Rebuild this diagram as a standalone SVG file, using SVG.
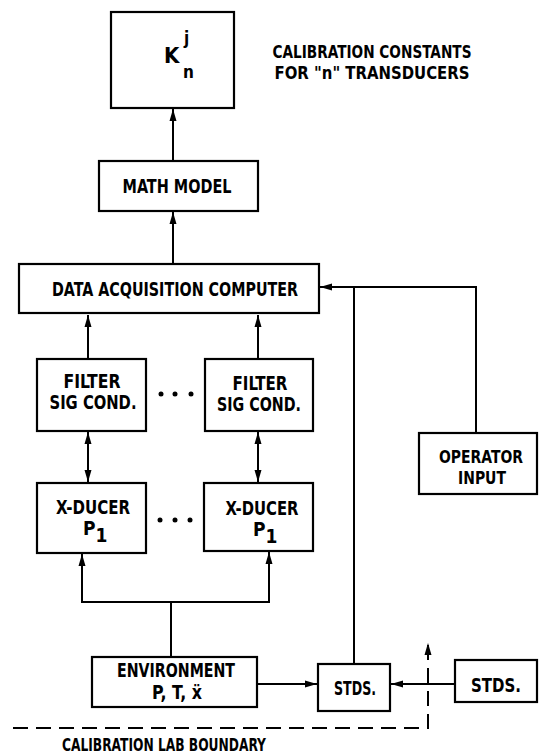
<svg xmlns="http://www.w3.org/2000/svg" width="539" height="756" viewBox="0 0 539 756">
<style>
.box{fill:#fff;stroke:#000;stroke-width:2.2}
.ln{fill:none;stroke:#000;stroke-width:2}
.dash{fill:none;stroke:#000;stroke-width:2;stroke-dasharray:15 8}
text{font-family:"Liberation Sans Narrow","DejaVu Sans Condensed","Liberation Sans",sans-serif;font-weight:bold;font-size:19px;fill:#000}
.c{text-anchor:middle}
.t{font-size:18px}
</style>
<defs>
<marker id="ah" markerWidth="13" markerHeight="8" refX="12" refY="4" orient="auto" markerUnits="userSpaceOnUse" viewBox="0 0 12 8">
<path d="M0,0.5 L12,4 L0,7.5 Z" fill="#000"/>
</marker>
<marker id="as" markerWidth="13" markerHeight="8" refX="0" refY="4" orient="auto" markerUnits="userSpaceOnUse" viewBox="0 0 12 8">
<path d="M12,0.5 L0,4 L12,7.5 Z" fill="#000"/>
</marker>
</defs>

<g id="connectors">
<path class="ln" d="M173,161 V109" marker-end="url(#ah)"/>
<path class="ln" d="M173,264 V212" marker-end="url(#ah)"/>
<path class="ln" d="M88,359 V315" marker-end="url(#ah)"/>
<path class="ln" d="M258,359 V315" marker-end="url(#ah)"/>
<path class="ln" d="M88,432 V482" marker-start="url(#as)" marker-end="url(#ah)"/>
<path class="ln" d="M258,432 V482" marker-start="url(#as)" marker-end="url(#ah)"/>
<path class="ln" d="M171,657 V602 H82 V554" marker-end="url(#ah)"/>
<path class="ln" d="M171,602 H269 V552" marker-end="url(#ah)"/>
<path class="ln" d="M476,433 V287 H320" marker-end="url(#ah)"/>
<path class="ln" d="M354,664 V287"/>
<path class="ln" d="M257,684 H317" marker-end="url(#ah)"/>
<path class="ln" d="M455,684 H391" marker-end="url(#ah)"/>
<path class="dash" d="M13,728 H428 V643" marker-end="url(#ah)"/>
</g>

<g id="kn">
<rect class="box" x="111" y="12" width="123" height="96"/>
<text x="164" y="63" style="font-size:22px">K</text>
<text x="184" y="44" style="font-size:17px">j</text>
<text x="183" y="78" style="font-size:17px">n</text>
</g>

<g id="title">
<text class="c t" x="372" y="58" textLength="199" lengthAdjust="spacingAndGlyphs">CALIBRATION CONSTANTS</text>
<text class="c t" x="372" y="79" textLength="195" lengthAdjust="spacingAndGlyphs">FOR "n" TRANSDUCERS</text>
</g>

<g id="math">
<rect class="box" x="99" y="161" width="159" height="50"/>
<text class="c" x="177" y="193" textLength="109" lengthAdjust="spacingAndGlyphs">MATH MODEL</text>
</g>

<g id="daq">
<rect class="box" x="19" y="264" width="300" height="49"/>
<text class="c" x="175" y="296" textLength="246" lengthAdjust="spacingAndGlyphs">DATA ACQUISITION COMPUTER</text>
</g>

<g id="filter1">
<rect class="box" x="37" y="359" width="109" height="72"/>
<text class="c" x="92" y="388" textLength="57" lengthAdjust="spacingAndGlyphs">FILTER</text>
<text class="c" x="93" y="409" textLength="87" lengthAdjust="spacingAndGlyphs">SIG COND.</text>
</g>

<g id="filter2">
<rect class="box" x="205" y="359" width="108" height="72"/>
<text class="c" x="260" y="390" textLength="55" lengthAdjust="spacingAndGlyphs">FILTER</text>
<text class="c" x="259" y="411" textLength="84" lengthAdjust="spacingAndGlyphs">SIG COND.</text>
</g>

<g id="dots1">
<circle cx="161" cy="394" r="2.5"/>
<circle cx="175" cy="394" r="2.5"/>
<circle cx="191" cy="394" r="2.5"/>
</g>

<g id="xducer1">
<rect class="box" x="37" y="483" width="109" height="70"/>
<text class="c" x="93" y="514" textLength="74" lengthAdjust="spacingAndGlyphs">X-DUCER</text>
<text x="83" y="535">P<tspan dy="7">1</tspan></text>
</g>

<g id="xducer2">
<rect class="box" x="204" y="483" width="109" height="68"/>
<text class="c" x="262" y="515" textLength="73" lengthAdjust="spacingAndGlyphs">X-DUCER</text>
<text x="253" y="536">P<tspan dy="7">1</tspan></text>
</g>

<g id="dots2">
<circle cx="160" cy="520" r="2.5"/>
<circle cx="175" cy="520" r="2.5"/>
<circle cx="190" cy="520" r="2.5"/>
</g>

<g id="operator">
<rect class="box" x="419" y="433" width="118" height="61"/>
<text class="c" x="481" y="463" style="font-size:18px" textLength="84" lengthAdjust="spacingAndGlyphs">OPERATOR</text>
<text class="c" x="482" y="484" style="font-size:18px" textLength="48" lengthAdjust="spacingAndGlyphs">INPUT</text>
</g>

<g id="environment">
<rect class="box" x="92" y="657" width="165" height="50"/>
<text class="c" x="176" y="677" textLength="118" lengthAdjust="spacingAndGlyphs">ENVIRONMENT</text>
<text class="c" x="177" y="699" textLength="50" lengthAdjust="spacingAndGlyphs">P, T, ẍ</text>
</g>

<g id="stds1">
<rect class="box" x="318" y="664" width="72" height="47"/>
<text class="c" x="355" y="695" textLength="42" lengthAdjust="spacingAndGlyphs">STDS.</text>
</g>

<g id="stds2">
<rect class="box" x="455" y="660" width="82" height="42"/>
<text class="c" x="496" y="692" textLength="50" lengthAdjust="spacingAndGlyphs">STDS.</text>
</g>

<g id="boundary">
<text x="62" y="751" style="font-size:18px" textLength="204" lengthAdjust="spacingAndGlyphs">CALIBRATION LAB BOUNDARY</text>
</g>
</svg>
